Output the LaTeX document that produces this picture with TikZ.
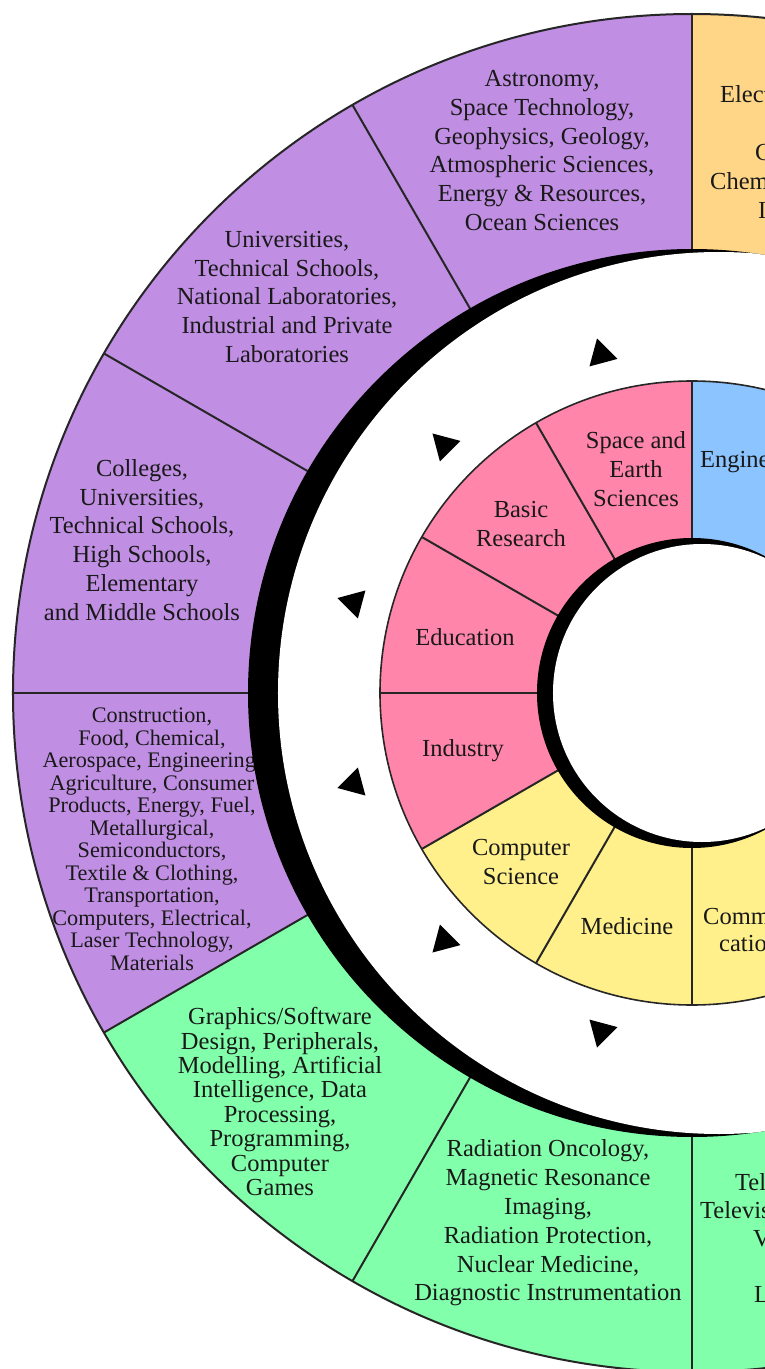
\documentclass[tikz,border=0pt]{standalone}
\usepackage{fontspec}
\setmainfont{Liberation Serif}
\definecolor{cpurple}{RGB}{192,142,226}
\definecolor{corange}{RGB}{255,214,135}
\definecolor{cpink}{RGB}{255,133,170}
\definecolor{cblue}{RGB}{140,196,255}
\definecolor{cyellow}{RGB}{255,240,140}
\definecolor{cgreen}{RGB}{130,255,170}
\begin{document}
\begin{tikzpicture}[x=1pt,y=1pt,
  seg/.style={line width=2pt, draw=black!85},
  lbl/.style={align=center, inner sep=0pt, text=black!90, font=\fontsize{24.5}{28.8}\selectfont},
  lblsmall/.style={lbl, font=\fontsize{22.2}{22.5}\selectfont},
  lbltight/.style={lbl, font=\fontsize{24.5}{24.4}\selectfont},
  frag/.style={anchor=base west, inner sep=0pt, text=black!90, font=\fontsize{24.5}{28.8}\selectfont},
  tri/.style={fill=black}]
\useasboundingbox (-692,-676) rectangle (73,693);
\fill[white] (-692,-676) rectangle (73,693);
% outer ring sectors
\foreach \a/\c in {60/corange,90/cpurple,120/cpurple,150/cpurple,180/cpurple,210/cgreen,240/cgreen,270/cgreen}{
  \fill[\c] (0,0) -- (\a:679) arc[start angle=\a, end angle=\a+30, radius=679] -- cycle;
}
\foreach \a in {90,120,...,270}{ \draw[seg] (\a:440) -- (\a:679); }
\draw[seg] (0,0) circle (679);
% outer ring texts
\begin{scope}
\clip (0,0) circle (678);
\node[lbl] (astro) at (-150,542.5) {Astronomy,\\Space Technology,\\Geophysics, Geology,\\Atmospheric Sciences,\\Energy \& Resources,\\Ocean Sciences};
\node[lbl] (univ) at (-405,396) {Universities,\\Technical Schools,\\National Laboratories,\\Industrial and Private\\Laboratories};
\node[lbl] (coll) at (-550,153) {Colleges,\\Universities,\\Technical Schools,\\High Schools,\\Elementary\\and Middle Schools};
\node[lblsmall] (constr) at (-540,-146.5) {Construction,\\Food, Chemical,\\Aerospace, Engineering,\\Agriculture, Consumer\\Products, Energy, Fuel,\\Metallurgical,\\Semiconductors,\\Textile \& Clothing,\\Transportation,\\Computers, Electrical,\\Laser Technology,\\Materials};
\node[lbltight] (graph) at (-412,-408.5) {Graphics/Software\\Design, Peripherals,\\Modelling, Artificial\\Intelligence, Data\\Processing,\\Programming,\\Computer\\Games};
\node[lbl] (radi) at (-144,-530) {Radiation Oncology,\\Magnetic Resonance\\Imaging,\\Radiation Protection,\\Nuclear Medicine,\\Diagnostic Instrumentation};
\node[frag] (f1) at (28,590) {Elect};
\node[frag] (f2) at (63,532) {C};
\node[frag] (f3) at (18,503) {Chem};
\node[frag] (f4) at (66,474) {I};
\node[frag] (f5) at (43,-497) {Tel};
\node[frag] (f6) at (8,-525) {Televis};
\node[frag] (f7) at (61,-553) {V};
\node[frag] (f8) at (62,-609) {L};
\end{scope}
% shadow band of the white ring
\fill[black] (0,0) circle (444);
\begin{scope}
\clip (0,0) circle (444);
\fill[white] (27,0) circle (441);
\end{scope}
% middle ring
\foreach \a/\c in {60/cblue,90/cpink,120/cpink,150/cpink,180/cpink,210/cyellow,240/cyellow,270/cyellow}{
  \fill[\c] (0,0) -- (\a:312) arc[start angle=\a, end angle=\a+30, radius=312] -- cycle;
}
\foreach \a in {90,120,...,270}{ \draw[seg] (\a:150) -- (\a:312); }
\draw[seg, line width=1.6pt] (0,0) circle (312);
\node[lbl] (space) at (-56,224) {Space and\\Earth\\Sciences};
\node[lbl] (basic) at (-171,169) {Basic\\Research};
\node[lbl] (edu) at (-227,56) {Education};
\node[lbl] (ind) at (-229,-58) {Industry};
\node[lbl] (comp) at (-171,-169) {Computer\\Science};
\node[lbl] (med) at (-65,-233) {Medicine};
\node[frag] (f9) at (8,226) {Engine};
\node[frag] (f10) at (11,-231) {Comm};
\node[frag] (f11) at (27,-258) {catio};
% inner shadow and hole
\fill[black] (0,0) circle (155);
\fill[white] (10,0) circle (149);
% arrow triangles
\foreach \a in {105,135,...,255}{
  \fill[tri, rotate=\a] (367,0) -- (342,14.5) -- (342,-14.5) -- cycle;
}
\end{tikzpicture}
\end{document}
